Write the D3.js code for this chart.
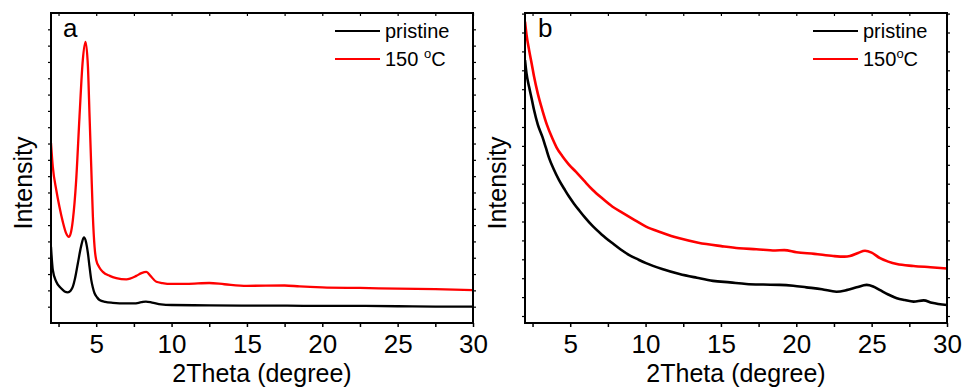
<!DOCTYPE html>
<html>
<head>
<meta charset="utf-8">
<script src="https://cdn.jsdelivr.net/npm/d3@7"></script>
<style>
  html, body { margin: 0; padding: 0; background: #fff; }
  svg { display: block; }
  text { font-family: "Liberation Sans", Arial, sans-serif; fill: #000; }
</style>
</head>
<body>
<svg id="chart" width="965" height="387"></svg>
<script>
// ---------------- DATA ----------------
const xTickValues = [5, 10, 15, 20, 25, 30];
const xMinorTicks = [2.5, 7.5, 12.5, 17.5, 22.5, 27.5];
const seriesNames = ["pristine", "150 °C"];
const seriesNamesB = ["pristine", "150°C"];

// Panel a (relative intensity, arbitrary units)
const aPristineX = [2.0, 2.12, 2.35, 2.67, 2.9, 3.12, 3.3, 3.45, 3.6, 3.78, 4.0, 4.18, 4.33, 4.45, 4.56, 4.67, 4.78, 4.89, 5.05, 5.22, 5.6, 6.1, 7.0, 7.5, 8.0, 8.3, 8.7, 9.3, 10, 12.5, 15, 17.5, 20, 22.5, 25, 27.5, 30];
const aPristineY = [24.6, 17.1, 13.3, 11.2, 10.2, 9.9, 10.4, 11.7, 14.5, 19.2, 24.8, 27.6, 26.0, 22.5, 18.0, 13.9, 11.4, 9.6, 8.3, 7.4, 6.8, 6.5, 6.3, 6.3, 6.7, 6.9, 6.6, 6.0, 5.8, 5.7, 5.6, 5.6, 5.5, 5.5, 5.4, 5.3, 5.3];

const a150X = [2.0, 2.12, 2.35, 2.56, 2.78, 3.0, 3.18, 3.3, 3.45, 3.67, 3.89, 4.11, 4.29, 4.45, 4.56, 4.67, 4.78, 4.89, 5.0, 5.2, 5.44, 5.9, 6.33, 7.0, 7.66, 8.0, 8.33, 8.6, 8.99, 9.4, 9.87, 11, 12.5, 13.5, 15, 17.5, 18.5, 20, 22.5, 25, 27.5, 30];
const a150Y = [58, 50.4, 42.9, 37.5, 32.7, 29.0, 27.8, 28.8, 33.2, 46, 66.5, 84.8, 90.7, 82.7, 66.5, 50.4, 34.3, 24.6, 20.3, 18.0, 16.5, 15.2, 14.5, 14.1, 15.2, 16.1, 16.5, 15.2, 13.3, 12.9, 12.6, 12.6, 12.9, 12.5, 12.0, 12.1, 11.8, 11.5, 11.3, 11.1, 10.9, 10.6];

// Panel b
const bPristineX = [2.0, 2.1, 2.27, 2.45, 2.6, 2.85, 3.15, 3.4, 3.6, 3.9, 4.26, 4.6, 4.93, 5.25, 5.6, 6.0, 6.48, 7.1, 7.81, 8.35, 8.92, 9.5, 10.03, 11.1, 12.25, 13.4, 14.47, 15.6, 16.68, 17.8, 18.9, 19.8, 20.67, 21.7, 22.67, 23.33, 24.0, 24.67, 25.1, 25.56, 26.1, 26.67, 27.2, 27.78, 28.45, 29.0, 30.0];
const bPristineY = [84.8, 80.5, 76.2, 72.2, 68.7, 64.0, 60.1, 56.3, 53.2, 49.7, 46.1, 43.3, 40.7, 38.5, 36.3, 33.9, 31.3, 28.5, 25.7, 23.7, 21.9, 20.5, 19.3, 17.4, 15.8, 14.6, 13.6, 13.1, 12.6, 12.4, 12.3, 12.0, 11.5, 10.9, 10.1, 10.6, 11.5, 12.3, 11.8, 10.6, 9.2, 8.0, 7.4, 6.9, 7.3, 6.5, 5.8];

const b150X = [2.0, 2.1, 2.27, 2.45, 2.6, 2.85, 3.15, 3.45, 3.82, 4.1, 4.48, 4.9, 5.37, 5.9, 6.48, 7.1, 7.81, 8.45, 9.14, 10.03, 11.0, 12.25, 13.5, 15.02, 16.2, 17.35, 18.6, 19.2, 20.01, 21.2, 22.45, 23.2, 23.56, 24.1, 24.56, 25.0, 25.56, 26.1, 26.67, 27.78, 28.9, 30.0];
const b150Y = [97.2, 93.0, 88.1, 83.5, 79.5, 74.0, 68.7, 64.0, 59.5, 56.6, 53.8, 51.2, 48.8, 46.0, 43.0, 40.3, 37.5, 35.6, 33.6, 31.1, 29.3, 27.3, 25.9, 24.8, 24.1, 23.8, 23.4, 23.5, 22.8, 22.3, 21.6, 21.4, 21.6, 22.6, 23.3, 22.7, 20.9, 19.8, 19.0, 18.4, 18.0, 17.6];

// ---------------- DRAW ----------------
const svg = d3.select("#chart");
const plotTop = 13, plotBottom = 323;

function zip(xs, ys) { return xs.map((x, i) => ({x, y: ys[i]})); }

function panel(opts) {
  const g = svg.append("g");
  const x = d3.scaleLinear().domain([2, 30]).range([opts.left, opts.right]);
  const y = d3.scaleLinear().domain([0, 100]).range([plotBottom, plotTop]);

  const yTicks = d3.range(opts.yTickStart, 100, opts.yTickStep);

  // bottom axis (outward ticks)
  g.append("g").attr("transform", `translate(0,${plotBottom})`)
    .call(d3.axisBottom(x).tickValues(xTickValues.concat(xMinorTicks)).tickSize(4).tickFormat(""))
    .call(s => s.select(".domain").remove())
    .call(s => s.selectAll("line").attr("stroke-width", 1.5));
  g.append("g").attr("transform", `translate(0,${plotBottom})`)
    .call(d3.axisBottom(x).tickValues(xTickValues).tickSize(0).tickPadding(12).tickFormat(d3.format("d")))
    .call(s => s.select(".domain").remove())
    .call(s => s.selectAll("text").attr("font-size", 26).attr("font-family", "Liberation Sans, Arial, sans-serif"));
  // top axis (inward ticks)
  g.append("g").attr("transform", `translate(0,${plotTop})`)
    .call(d3.axisBottom(x).tickValues(xTickValues.concat(xMinorTicks)).tickSize(3).tickFormat(""))
    .call(s => s.select(".domain").remove())
    .call(s => s.selectAll("line").attr("stroke-width", 1.2));
  // left axis
  g.append("g").attr("transform", `translate(${opts.left},0)`)
    .call(d3.axisLeft(y).tickValues(yTicks).tickSize(3).tickFormat(""))
    .call(s => s.select(".domain").remove())
    .call(s => s.selectAll("line").attr("stroke-width", 1.2));
  // right axis
  g.append("g").attr("transform", `translate(${opts.right},0)`)
    .call(d3.axisRight(y).tickValues(yTicks).tickSize(3).tickFormat(""))
    .call(s => s.select(".domain").remove())
    .call(s => s.selectAll("line").attr("stroke-width", 1.2));

  const line = d3.line().x(d => x(d.x)).y(d => y(d.y)).curve(d3.curveMonotoneX);
  const clipId = "clip" + opts.label;
  svg.append("clipPath").attr("id", clipId).append("rect")
    .attr("x", opts.left).attr("y", plotTop).attr("width", opts.right - opts.left).attr("height", plotBottom - plotTop);
  const cg = g.append("g").attr("clip-path", `url(#${clipId})`);
  cg.append("path").datum(zip(opts.blackX, opts.blackY)).attr("d", line)
    .attr("fill", "none").attr("stroke", "#000").attr("stroke-width", opts.lw).attr("stroke-linejoin", "round");
  cg.append("path").datum(zip(opts.redX, opts.redY)).attr("d", line)
    .attr("fill", "none").attr("stroke", "#ff0000").attr("stroke-width", opts.lw).attr("stroke-linejoin", "round");

  // frame
  g.append("rect").attr("x", opts.left).attr("y", plotTop)
    .attr("width", opts.right - opts.left).attr("height", plotBottom - plotTop)
    .attr("fill", "none").attr("stroke", "#000").attr("stroke-width", 2);

  // panel label
  g.append("text").attr("x", opts.left + opts.labelDx).attr("y", 37).attr("font-size", 26).text(opts.label);

  // axis titles
  g.append("text").attr("x", (opts.left + opts.right) / 2).attr("y", 381.5)
    .attr("text-anchor", "middle").attr("font-size", 25).text("2Theta (degree)");
  g.append("text").attr("transform", `translate(${opts.yTitleX},183) rotate(-90)`)
    .attr("text-anchor", "middle").attr("font-size", 25).text("Intensity");

  // legend
  const lx0 = opts.legendX;
  g.append("line").attr("x1", lx0).attr("x2", lx0 + 45).attr("y1", 31).attr("y2", 31)
    .attr("stroke", "#000").attr("stroke-width", 2.2);
  g.append("line").attr("x1", lx0).attr("x2", lx0 + 45).attr("y1", 59).attr("y2", 59)
    .attr("stroke", "#ff0000").attr("stroke-width", 2.2);
  g.append("text").attr("x", lx0 + 50).attr("y", 38).attr("font-size", 20).text(opts.names[0]);
  const t2 = g.append("text").attr("x", lx0 + 50).attr("y", 66).attr("font-size", 20);
  const nm = opts.names[1];
  const idx = nm.indexOf("°");
  t2.append("tspan").text(nm.slice(0, idx));
  t2.append("tspan").attr("font-size", 13).attr("dy", -8).text("o");
  t2.append("tspan").attr("dy", 8).text(nm.slice(idx + 1));
}

panel({
  left: 51, right: 473, label: "a", labelDx: 12, yTitleX: 32, legendX: 335, lw: 2.3,
  yTickStart: 100 / 19, yTickStep: 100 / 19, names: seriesNames,
  blackX: aPristineX, blackY: aPristineY, redX: a150X, redY: a150Y
});
panel({
  left: 525, right: 947, label: "b", labelDx: 13, yTitleX: 506, legendX: 813, lw: 2.6,
  yTickStart: 7 / 3.1, yTickStep: 18.9 / 3.1, names: seriesNamesB,
  blackX: bPristineX, blackY: bPristineY, redX: b150X, redY: b150Y
});
</script>
</body>
</html>
